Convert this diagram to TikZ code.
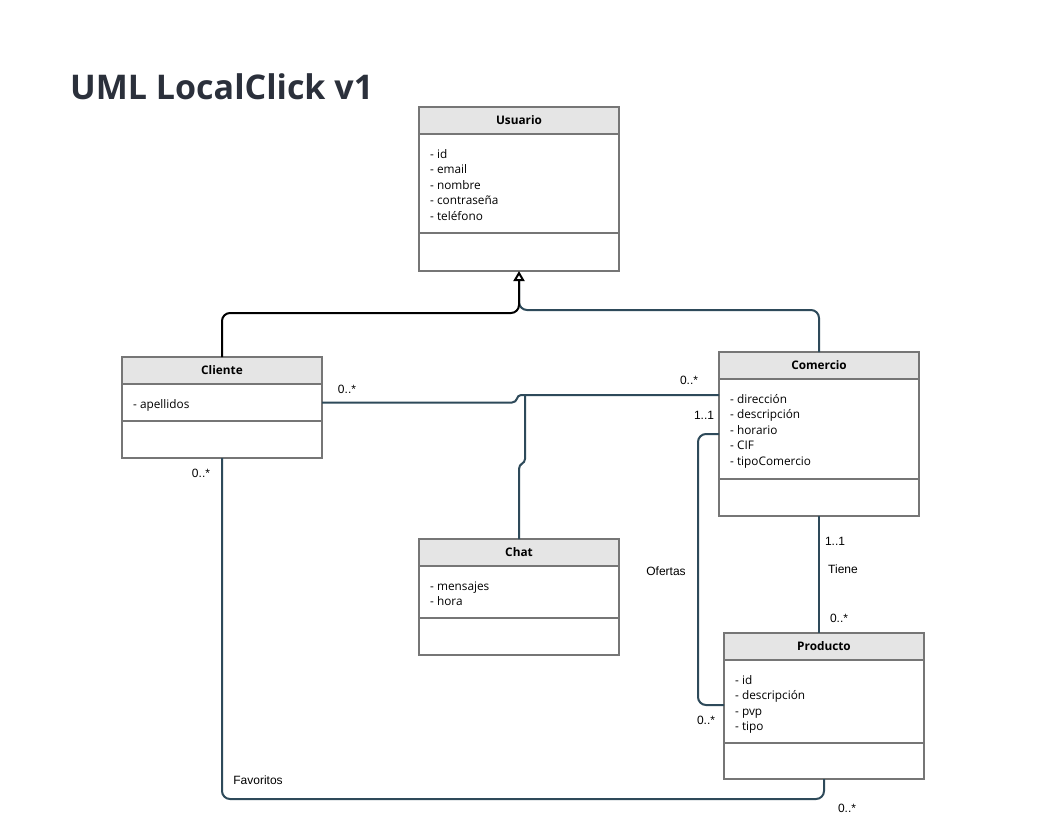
\documentclass[tikz,border=0pt]{standalone}
\usepackage{fontspec}
\setmainfont{Open Sans}
\newfontfamily\lblfont{Liberation Sans}
\usetikzlibrary{positioning,arrows.meta}
\definecolor{linkc}{RGB}{46,74,90}
\definecolor{boxc}{RGB}{118,118,118}
\definecolor{hdrc}{RGB}{229,229,229}
\definecolor{titlec}{RGB}{43,48,59}
\tikzset{
  hdr/.style={rectangle,draw=boxc,line width=2pt,fill=hdrc,minimum width=200pt,minimum height=27pt,inner sep=0pt,outer sep=0pt,font=\fontsize{11.8}{14}\selectfont\bfseries},
  cmp/.style={rectangle,draw=boxc,line width=2pt,fill=white,minimum width=200pt,inner sep=0pt,outer sep=0pt},
  attr/.style={anchor=north west,inner sep=0pt,align=left,font=\fontsize{11.8}{15.5}\selectfont},
  lbl/.style={inner sep=0pt,font=\lblfont\fontsize{12}{14}\selectfont},
  edge/.style={draw=linkc,line width=2pt,rounded corners=8pt},
  gen/.style={edge,draw=black,-{Triangle[open,length=10pt,width=11pt]}}
}

\begin{document}
\begin{tikzpicture}[x=1pt,y=-1pt]
\fill[white] (0,0) rectangle (1054,820);
\useasboundingbox (0,0) rectangle (1054,820);
\node[anchor=base west,inner sep=0pt,text=titlec,font=\fontsize{34}{40}\selectfont\bfseries] (title) at (70,99) {UML LocalClick v1};
% classes
\node[hdr] (usu-h) at (519,120.5) {Usuario};
\node[cmp,minimum height=99pt,below=0pt of usu-h] (usu-a) {};
\node[cmp,minimum height=38pt,below=0pt of usu-a] (usu-o) {};
\node[attr] (usu-t) at ([xshift=11pt,yshift=-13pt]usu-a.north west) {\strut- id\\- email\\- nombre\\- contraseña\\- teléfono};
\node[hdr] (cli-h) at (222,370.5) {Cliente};
\node[cmp,minimum height=37pt,below=0pt of cli-h] (cli-a) {};
\node[cmp,minimum height=37pt,below=0pt of cli-a] (cli-o) {};
\node[attr] (cli-t) at ([xshift=11pt,yshift=-13pt]cli-a.north west) {\strut- apellidos};
\node[hdr] (com-h) at (819,365.5) {Comercio};
\node[cmp,minimum height=100pt,below=0pt of com-h] (com-a) {};
\node[cmp,minimum height=37pt,below=0pt of com-a] (com-o) {};
\node[attr] (com-t) at ([xshift=11pt,yshift=-13pt]com-a.north west) {\strut- dirección\\- descripción\\- horario\\- CIF\\- tipoComercio};
\node[hdr] (chat-h) at (519,552.5) {Chat};
\node[cmp,minimum height=52pt,below=0pt of chat-h] (chat-a) {};
\node[cmp,minimum height=37pt,below=0pt of chat-a] (chat-o) {};
\node[attr] (chat-t) at ([xshift=11pt,yshift=-13pt]chat-a.north west) {\strut- mensajes\\- hora};
\node[hdr] (pro-h) at (824,646.5) {Producto};
\node[cmp,minimum height=83pt,below=0pt of pro-h] (pro-a) {};
\node[cmp,minimum height=36pt,below=0pt of pro-a] (pro-o) {};
\node[attr] (pro-t) at ([xshift=11pt,yshift=-13pt]pro-a.north west) {\strut- id\\- descripción\\- pvp\\- tipo};
% links
\draw[edge,shorten >=10pt] (com-h.north) -- ++(0,-42) -| (usu-o.south);
\draw[gen] (cli-h.north) -- ++(0,-44) -| (usu-o.south);
\coordinate (asc) at (525,395);
\coordinate (jmp) at (521,395);
\draw[edge,sharp corners] (cli-a.east) -- ++(190,0) .. controls ++(6,0) and ++(-5,0) .. (jmp) -- (com-a.west |- asc);
\draw[edge,sharp corners] (chat-h.north) -- ++(0,-70) .. controls ++(0,-6) and ++(0,5) .. ++(6,-10) -- (asc);
\draw[edge] ([yshift=-5pt]com-a.west) -- ++(-21,0) |- ([yshift=-3.5pt]pro-a.west);
\draw[edge] (com-o.south) -- (com-o.south |- pro-h.north);
\draw[edge] (cli-o.south) -- ++(0,341) -| (pro-o.south);
% labels
\node[lbl] (cc-m1) at (347,389) {0..*};
\node[lbl] (cc-m2) at (689,380) {0..*};
\node[lbl] (of-m1) at (704,415) {1..1};
\node[lbl] (of-l) at (666,571) {Ofertas};
\node[lbl] (of-m2) at (706,720) {0..*};
\node[lbl] (ti-m1) at (835,541) {1..1};
\node[lbl] (ti-l) at (843,569) {Tiene};
\node[lbl] (ti-m2) at (839,618) {0..*};
\node[lbl] (fa-m1) at (201,473) {0..*};
\node[lbl] (fa-l) at (258,780) {Favoritos};
\node[lbl] (fa-m2) at (847,808) {0..*};
\end{tikzpicture}
\end{document}
